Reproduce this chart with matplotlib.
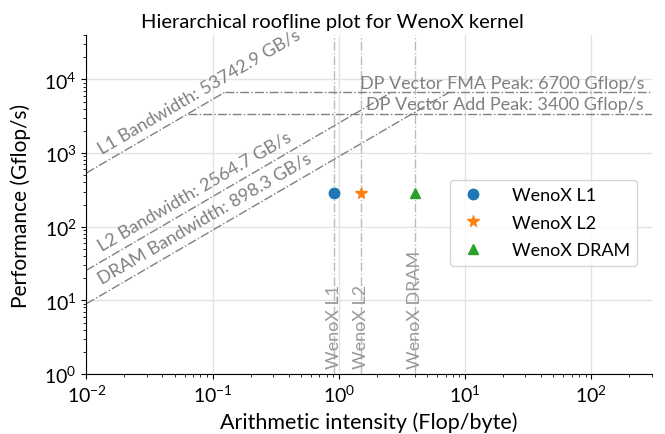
import matplotlib
matplotlib.use("Agg")
import matplotlib.pyplot as plt
import numpy as np

# roofline data
bw_names = ["L1", "L2", "DRAM"]
bw_values = [53742.9, 2564.7, 898.3]          # GB/s
peak_names = ["DP Vector FMA Peak", "DP Vector Add Peak"]
peak_values = [6700, 3400]                     # Gflop/s

# kernel measurements
kernel_labels = ["WenoX L1", "WenoX L2", "WenoX DRAM"]
kernel_ai = [0.91, 1.50, 4.02]                 # Flop/byte
kernel_perf = [284, 284, 284]                  # Gflop/s
kernel_markers = ["o", "*", "^"]
kernel_colors = ["#1f77b4", "#ff7f0e", "#2ca02c"]

xmin, xmax = 1e-2, 300
ymin, ymax = 1, 4e4

plt.rcParams["font.family"] = ["Lato", "DejaVu Sans"]
plt.rcParams["mathtext.fontset"] = "custom"
plt.rcParams["mathtext.rm"] = "Lato"
plt.rcParams["mathtext.it"] = "Lato:italic"
plt.rcParams["mathtext.bf"] = "Lato:bold"

fig = plt.figure(figsize=(6.65, 4.35), dpi=100)
ax = fig.add_axes([0.130, 0.138, 0.850, 0.779])
ax.set_xscale("log")
ax.set_yscale("log")
ax.set_xlim(xmin, xmax)
ax.set_ylim(ymin, ymax)

line_col = "#808080"
top_peak = max(peak_values)
top_bw = max(bw_values)

# bandwidth ceilings, up to the highest compute peak
ang = None
for name, bw in zip(bw_names, bw_values):
    x_end = top_peak / bw
    ax.plot([xmin, x_end], [xmin * bw, top_peak], ls="-.", color=line_col, lw=1)
    if ang is None:
        p = ax.transData.transform([(1e-2, 1e-2 * bw), (1e-1, 1e-1 * bw)])
        ang = np.degrees(np.arctan2(p[1, 1] - p[0, 1], p[1, 0] - p[0, 0]))
    xt = 0.0137
    ax.text(xt, xt * bw * 1.25, f"{name} Bandwidth: {bw} GB/s", color=line_col,
            rotation=ang, rotation_mode="anchor", ha="left", va="bottom",
            fontsize=13)

# compute ceilings, starting at the fastest memory level
for name, pk in zip(peak_names, peak_values):
    ax.plot([pk / top_bw, xmax], [pk, pk], ls="-.", color=line_col, lw=1)
    ax.text(xmax * 0.87, pk * 1.05, f"{name}: {pk} Gflop/s", color=line_col,
            ha="right", va="bottom", fontsize=13)

# kernel points with vertical markers
for lab, ai, perf, m, c in zip(kernel_labels, kernel_ai, kernel_perf,
                               kernel_markers, kernel_colors):
    ax.axvline(ai, ls="-.", color="#bbbbbb", lw=1, zorder=1)
    ax.text(ai, 1.2, lab, rotation=90, ha="center", va="bottom",
            color="#999999", fontsize=13)
    ax.plot(ai, perf, ls="none", marker=m, color=c,
            markersize=8.5 if m == "*" else 7.5, label=lab, zorder=3)

ax.grid(True, which="major", color="#e3e3e3", lw=1)
ax.set_axisbelow(True)
for s in ["top", "right"]:
    ax.spines[s].set_visible(False)
ax.tick_params(labelsize=14)

ax.set_title("Hierarchical roofline plot for WenoX kernel", fontsize=14.5,
             x=0.435)
ax.set_xlabel("Arithmetic intensity (Flop/byte)", fontsize=15.5, labelpad=5)
ax.set_ylabel("Performance (Gflop/s)", fontsize=15, labelpad=10)

ax.legend(loc="upper right", bbox_to_anchor=(0.99, 0.6), fontsize=13,
          handletextpad=1.3, labelspacing=0.65, handlelength=1.7)

fig.savefig("out.png", dpi=100)
